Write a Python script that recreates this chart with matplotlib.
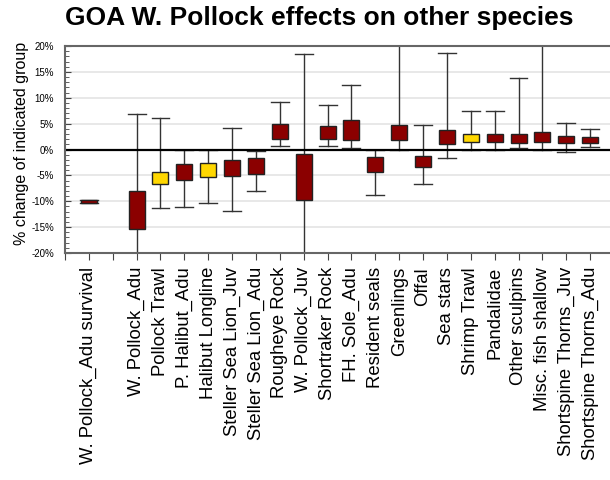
import matplotlib.pyplot as plt
from matplotlib.ticker import MultipleLocator, FuncFormatter

plt.rcParams['font.family'] = ['Liberation Sans', 'DejaVu Sans']

# x positions (slot 2 is left empty in the original)
positions = [1] + list(range(3, 23))
labels = ['W. Pollock_Adu survival', 'W. Pollock_Adu', 'Pollock Trawl', 'P. Halibut_Adu',
          'Halibut Longline', 'Steller Sea Lion_Juv', 'Steller Sea Lion_Adu', 'Rougheye Rock',
          'W. Pollock_Juv', 'Shortraker Rock', 'FH. Sole_Adu', 'Resident seals', 'Greenlings',
          'Offal', 'Sea stars', 'Shrimp Trawl', 'Pandalidae', 'Other sculpins',
          'Misc. fish shallow', 'Shortspine Thorns_Juv', 'Shortspine Thorns_Adu']

# percent change: whisker low, box low, box high, whisker high
whis_lo = [-10.3, -25.0, -11.3, -11.1, -10.3, -11.9, -7.95, 0.64, -25.0, 0.64, 0.3,
           -8.7, 0.0, -6.7, -1.7, 0.0, 0.0, 0.32, 0.0, -0.5, 0.5]
box_lo = [-10.3, -15.4, -6.7, -5.8, -5.4, -5.1, -4.7, 2.05, -9.7, 2.05, 1.86,
          -4.36, 1.86, -3.33, 1.09, 1.47, 1.47, 1.22, 1.47, 1.22, 1.22]
box_hi = [-9.8, -7.95, -4.36, -2.76, -2.56, -2.0, -1.73, 4.87, -0.96, 4.5, 5.7,
          -1.47, 4.68, -1.35, 3.72, 3.08, 3.08, 3.08, 3.46, 2.69, 2.5]
whis_hi = [-9.8, 6.9, 6.0, 0.0, 0.0, 4.2, -0.2, 9.1, 18.5, 8.65, 12.4,
           0.0, 25.0, 4.68, 18.65, 7.44, 7.44, 13.85, 25.0, 5.06, 4.04]
# fishing fleets are drawn in yellow
fleets = ['Pollock Trawl', 'Halibut Longline', 'Shrimp Trawl']

fig = plt.figure(figsize=(6.1, 4.8), dpi=100)
ax = fig.add_axes([65 / 610, 1 - 253 / 480, 549 / 610, 207 / 480])

stats = []
for i in range(len(labels)):
    stats.append({'whislo': whis_lo[i], 'q1': box_lo[i], 'med': box_lo[i],
                  'q3': box_hi[i], 'whishi': whis_hi[i]})

bp = ax.bxp(stats, positions=positions, widths=0.67, showfliers=False,
            patch_artist=True,
            boxprops=dict(edgecolor='#222222', linewidth=1.0),
            whiskerprops=dict(color='#333333', linewidth=1.0),
            capprops=dict(color='#333333', linewidth=1.0),
            medianprops=dict(visible=False),
            capwidths=0.75)
for patch, name in zip(bp['boxes'], labels):
    patch.set_facecolor('#FFD700' if name in fleets else '#8B0000')
    patch.set_zorder(3)

ax.axhline(0, color='black', linewidth=1.6, zorder=2.5)

ax.set_xlim(0, 23)
ax.set_ylim(-20, 20)
ax.set_xticks(range(0, 23))
tick_labels = [''] * 23
for p, name in zip(positions, labels):
    tick_labels[p] = name
ax.set_xticklabels(tick_labels, rotation=90, fontsize=13.3, va='top')

ax.yaxis.set_major_locator(MultipleLocator(5))
ax.yaxis.set_minor_locator(MultipleLocator(1))
ax.yaxis.set_major_formatter(FuncFormatter(lambda v, p: '%d%%' % v))
ax.tick_params(axis='y', which='major', direction='in', length=4, labelsize=7,
               color='#444444', pad=8)
ax.tick_params(axis='y', which='minor', direction='in', length=3, color='#444444')
ax.tick_params(axis='x', direction='out', length=5, color='#444444', pad=5)
ax.grid(axis='y', which='major', color='#e6e6e6', linewidth=1.3)
ax.set_axisbelow(True)
for s in ax.spines.values():
    s.set_color('#666666')
    s.set_linewidth(1.5)

ax.set_ylabel('% change of indicated group', fontsize=11.5)
ax.yaxis.set_label_coords(-0.066, 0.53)
fig.text(319 / 610, 1 - 25 / 480, 'GOA W. Pollock effects on other species',
         ha='center', va='baseline', fontsize=19, fontweight='bold')

fig.savefig('out.png', dpi=100)
